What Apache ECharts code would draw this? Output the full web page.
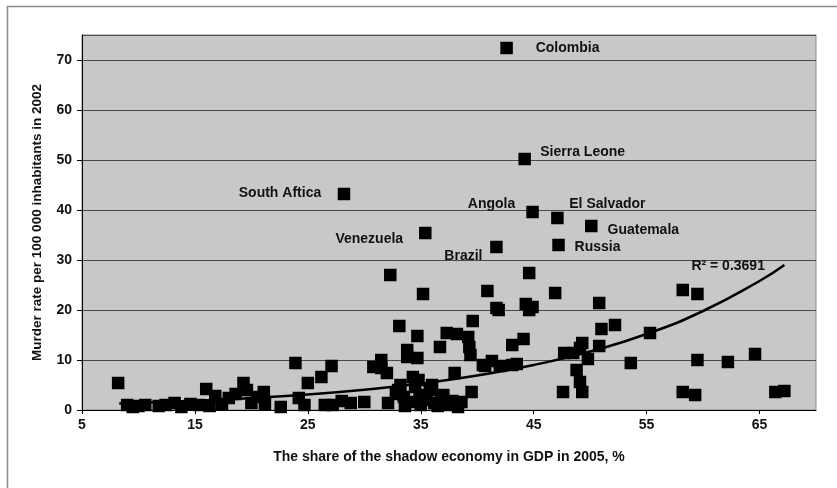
<!DOCTYPE html>
<html>
<head>
<meta charset="utf-8">
<script src="https://cdn.jsdelivr.net/npm/echarts@6/dist/echarts.min.js"></script>
<style>
html,body{margin:0;padding:0;background:#fff;}
#chart{width:837px;height:488px;}
</style>
</head>
<body>
<div id="chart"></div>
<script>
// Unlabelled countries: [shadow economy %, murder rate]
var points = [
[8.2,5.4],[9.0,1.0],[9.5,0.6],[10.0,0.8],[10.6,1.0],[11.8,0.8],[12.4,1.0],[13.2,1.4],[13.8,0.6],[14.6,1.2],
[15.4,1.0],[16.0,4.2],[16.3,0.8],[16.8,2.8],[17.4,1.2],[18.0,2.4],[18.6,3.2],[19.3,5.4],[19.6,4.0],[20.0,1.4],
[20.5,2.6],[21.1,3.6],[21.2,1.2],[22.6,0.6],[23.9,9.4],[24.2,2.4],[24.7,1.0],[25.0,5.4],[26.2,6.6],[26.5,1.0],
[27.1,8.8],[27.2,1.0],[28.0,1.8],[28.8,1.4],[30.0,1.6],[30.8,8.6],[31.5,10.0],[31.5,8.4],[32.0,7.4],[32.3,27.0],
[32.1,1.4],[32.8,3.2],[33.0,4.0],[33.1,16.8],[33.2,5.0],[33.5,2.6],[33.8,12.0],[33.8,10.6],[33.6,0.8],[34.0,1.6],
[34.3,6.6],[34.5,4.6],[34.7,14.8],[34.7,10.4],[34.8,6.0],[34.9,3.0],[35.0,1.0],[35.2,23.2],[35.5,2.0],[35.8,4.0],
[36.0,5.0],[36.2,1.4],[36.5,0.8],[36.7,12.6],[36.8,2.6],[37.0,3.0],[37.3,15.4],[37.4,1.0],[37.8,1.8],[38.0,7.4],
[38.2,15.2],[38.3,0.6],[38.6,1.6],[39.2,14.6],[39.3,12.6],[39.4,11.0],[39.5,3.6],[39.6,17.8],[40.5,9.0],[40.7,8.8],
[40.9,23.8],[41.3,9.8],[41.7,20.4],[41.9,20.0],[42.0,8.8],[43.1,13.0],[43.1,9.0],[43.5,9.2],[44.1,14.2],[44.3,21.2],
[44.6,27.4],[44.6,20.0],[44.9,20.6],[46.9,23.4],[47.6,3.6],[47.7,11.4],[48.5,11.4],[48.8,8.0],[49.1,12.4],[49.1,5.6],
[49.3,13.4],[49.3,3.6],[49.8,10.2],[50.8,21.4],[50.8,12.8],[51.0,16.2],[52.2,17.0],[53.6,9.4],[55.3,15.4],[58.2,24.0],
[58.2,3.6],[59.3,3.0],[59.5,23.2],[59.5,10.0],[62.2,9.6],[64.6,11.2],[66.4,3.6],[67.2,3.8]
];
// Labelled countries
var labelNames = ['Colombia','Sierra Leone','South Aftica','Angola','El Salvador','Guatemala','Venezuela','Brazil','Russia'];
var labelX = [42.6, 44.2, 28.2, 44.9, 47.1, 50.1, 35.4, 41.7, 47.2];
var labelY = [72.4, 50.2, 43.2, 39.6, 38.4, 36.8, 35.4, 32.6, 33.0];
// Exponential trend line
var trendX = [8.3, 15, 20, 25, 30, 35, 40, 45, 50, 55, 60, 65, 67.2];
var trendY = [1.3, 1.85, 2.4, 3.1, 4.05, 5.3, 6.9, 9.0, 11.7, 15.2, 19.8, 25.8, 29.0];
var r2Text = 'R² = 0.3691';
var xTicksMin = 5, xMax = 70, yMax = 75;

var labelOffsets = [[61,0],[58,-7],[-64,-1],[-41,-8],[50,-14],[52,4],[-56,6],[-33,9],[39,2]];
var labelled = labelNames.map(function(n,i){
  return {value:[labelX[i],labelY[i]], name:n,
    label:{show:true, formatter:n, position:'inside', offset:labelOffsets[i], align:'center', verticalAlign:'middle'}};
});
var trend = trendX.map(function(x,i){return [x,trendY[i]];});

var txt = '#111111';
var font = 'Liberation Sans, Arial, sans-serif';
var chart = echarts.init(document.getElementById('chart'));
chart.setOption({
  backgroundColor:'#ffffff',
  animation:false,
  graphic:[{type:'rect', left:5, top:4, shape:{width:900, height:600}, style:{fill:'none', stroke:'#8c8c8c', lineWidth:1.5}, z:-10}],
  grid:{left:82, top:35, right:21, bottom:78, show:true, backgroundColor:'#c8c8c8', borderColor:'#8a8a8a', borderWidth:1},
  xAxis:{type:'value', min:xTicksMin, max:xMax, interval:10,
    name:'The share of the shadow economy in GDP in 2005, %', nameLocation:'middle', nameGap:40,
    nameTextStyle:{color:txt, fontFamily:font, fontWeight:'bold', fontSize:14},
    axisLine:{show:true, onZero:false, lineStyle:{color:'#000', width:1}},
    axisTick:{show:true, length:4, lineStyle:{color:'#000'}},
    axisLabel:{color:txt, fontFamily:font, fontWeight:'bold', fontSize:14, margin:8, showMaxLabel:false,
      formatter:function(v){return v===xMax?'':String(v);}},
    splitLine:{show:false}},
  yAxis:{type:'value', min:0, max:yMax, interval:10,
    name:'Murder rate per 100 000 inhabitants in 2002', nameLocation:'middle', nameGap:38, nameRotate:90,
    nameTextStyle:{color:txt, fontFamily:font, fontWeight:'bold', fontSize:13.5},
    axisLine:{show:true, lineStyle:{color:'#000', width:1}},
    axisTick:{show:true, length:5, lineStyle:{color:'#000'}},
    axisLabel:{color:txt, fontFamily:font, fontWeight:'bold', fontSize:14, margin:10, showMaxLabel:false,
      formatter:function(v){return v===yMax?'':String(v);}},
    splitLine:{show:true, lineStyle:{color:'#4a4a4a', width:1.2}}},
  series:[
    {type:'scatter', symbol:'rect', symbolSize:12.5, data:points, itemStyle:{color:'#000', opacity:1}, z:3},
    {type:'scatter', symbol:'rect', symbolSize:12.5, data:labelled, itemStyle:{color:'#000', opacity:1}, z:3,
      label:{color:txt, fontFamily:font, fontWeight:'bold', fontSize:14}},
    {type:'line', data:trend, smooth:true, showSymbol:false, symbol:'none', lineStyle:{color:'#000', width:2.5, opacity:1}, z:4,
      endLabel:{show:true, formatter:r2Text, color:txt, fontFamily:font, fontWeight:'bold', fontSize:14, offset:[-101,1]}}
  ]
});
</script>
</body>
</html>
